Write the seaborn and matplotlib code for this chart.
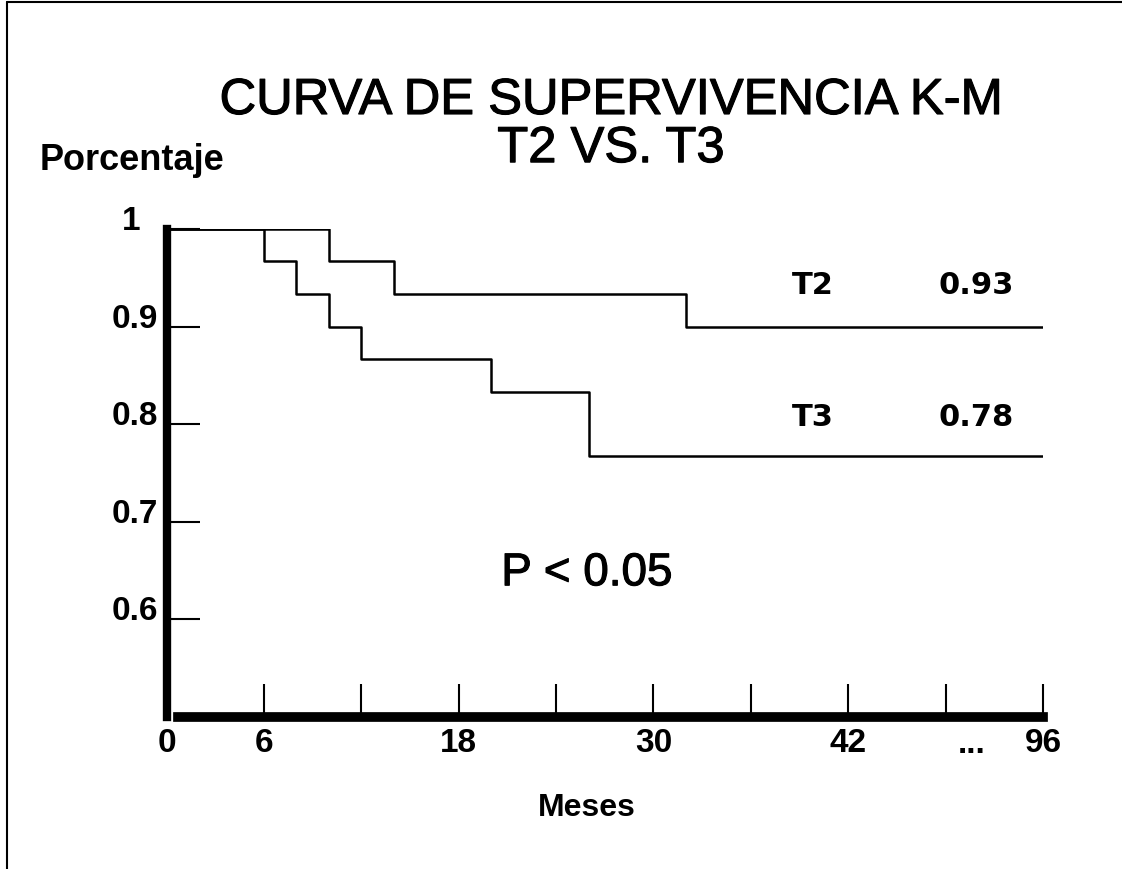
import matplotlib
matplotlib.use('Agg')
import matplotlib.pyplot as plt
import matplotlib.transforms as mtransforms
import matplotlib.patheffects as pe
from matplotlib import font_manager
from matplotlib.lines import Line2D
import seaborn as sns
import pandas as pd

# valores (meses, supervivencia acumulada)
t2_meses = [0, 10, 14, 32, 96]
t2_surv = [1.0, 0.967, 0.933, 0.900, 0.900]
t3_meses = [0, 6, 8, 10, 12, 20, 26, 96]
t3_surv = [1.0, 0.967, 0.933, 0.900, 0.867, 0.833, 0.767, 0.767]

grupos = ['T2', 'T3']
surv_final = ['0.93', '0.78']

x_ticks = [0, 6, 12, 18, 24, 30, 36, 42, 48, 96]
x_labels = ['0', '6', '', '18', '', '30', '', '42', '', '96']
y_ticks = [0.6, 0.7, 0.8, 0.9, 1.0]
y_labels = ['0.6', '0.7', '0.8', '0.9', '1']


def eje_x(t):
    # eje cortado: despues de 48 meses salta directo a 96
    return t if t <= 48 else 54


def hay_fuente(nombre):
    try:
        font_manager.findfont(nombre, fallback_to_default=False)
        return True
    except ValueError:
        return False


df = pd.concat([
    pd.DataFrame({'grupo': 'T2', 'meses': t2_meses, 'surv': t2_surv}),
    pd.DataFrame({'grupo': 'T3', 'meses': t3_meses, 'surv': t3_surv}),
])
df['pos'] = df['meses'].map(eje_x)

sns.set_style('white')
plt.rcParams['font.family'] = ['Liberation Sans', 'DejaVu Sans']
plt.rcParams['text.color'] = 'black'
plt.rcParams['axes.labelcolor'] = 'black'
plt.rcParams['xtick.color'] = 'black'
plt.rcParams['ytick.color'] = 'black'

fig = plt.figure(figsize=(11.22, 8.7), dpi=100)
ax = fig.add_axes([166.5 / 1122, 1 - 718 / 870, (1043 - 166.5) / 1122, (718 - 230) / 870])

sns.lineplot(data=df, x='pos', y='surv', hue='grupo', estimator=None,
             palette={'T2': 'black', 'T3': 'black'}, legend=False,
             drawstyle='steps-post', linewidth=1.8, ax=ax)

ax.set_xlim(0, 54)
ax.set_ylim(0.5, 1.0)
sns.despine(ax=ax)
ax.spines['left'].set_linewidth(6)
ax.spines['bottom'].set_linewidth(7)
ax.spines['left'].set_color('black')
ax.spines['bottom'].set_color('black')
ax.spines['bottom'].set_bounds(0.7, 54)

ax.set_xticks([eje_x(t) for t in x_ticks])
ax.set_xticklabels(x_labels)
ax.set_yticks(y_ticks)
ax.set_yticklabels(y_labels)
ax.tick_params(axis='x', bottom=True, direction='in', length=24, width=1.5, pad=7,
               labelsize=24, colors='black')
ax.tick_params(axis='y', left=True, direction='in', length=24, width=1.5, pad=6,
               labelsize=24, colors='black')
for lab in ax.get_xticklabels() + ax.get_yticklabels():
    lab.set_fontweight('bold')
subir = mtransforms.ScaledTranslation(0, 8.6 / 72, fig.dpi_scale_trans)
for lab in ax.get_yticklabels():
    lab.set_transform(lab.get_transform() + subir)
uno = mtransforms.ScaledTranslation(-13 / 72, 0, fig.dpi_scale_trans)
ax.get_yticklabels()[-1].set_transform(ax.get_yticklabels()[-1].get_transform() + uno)

ax.set_xlabel('')
ax.set_ylabel('')

# puntos suspensivos antes del 96
trans = mtransforms.blended_transform_factory(ax.transData, ax.transAxes)
ax.text(49.6, -0.0717, '...', transform=trans, ha='center', va='baseline',
        fontsize=24, fontweight='bold', clip_on=False)

# etiquetas de los grupos
ax.text(39.8, 0.934, grupos[0], ha='center', va='baseline', fontsize=22,
        fontweight='bold', family='DejaVu Sans')
ax.text(49.9, 0.934, surv_final[0], ha='center', va='baseline', fontsize=22,
        fontweight='bold', family='DejaVu Sans')
ax.text(39.8, 0.799, grupos[1], ha='center', va='baseline', fontsize=22,
        fontweight='bold', family='DejaVu Sans')
ax.text(49.9, 0.799, surv_final[1], ha='center', va='baseline', fontsize=22,
        fontweight='bold', family='DejaVu Sans')

grueso = [pe.withStroke(linewidth=0.8, foreground='black')]
ax.text(25.9, 0.635, 'P < 0.05', ha='center', va='baseline', fontsize=33,
        path_effects=grueso)

# titulo
if hay_fuente('Liberation Sans Narrow'):
    fam_tit, tam_tit = ['Liberation Sans Narrow', 'Liberation Sans'], 44
else:
    fam_tit, tam_tit = ['Liberation Sans'], 36.5
fig.text(0.5446, 0.8678, 'CURVA DE SUPERVIVENCIA K-M', ha='center', va='baseline',
         fontsize=tam_tit, family=fam_tit, path_effects=grueso)
fig.text(0.5446, 0.8125, 'T2 VS. T3', ha='center', va='baseline',
         fontsize=tam_tit, family=fam_tit, path_effects=grueso)

fig.text(0.0357, 0.8046, 'Porcentaje', ha='left', va='baseline',
         fontsize=26, fontweight='bold')
fig.text(0.523, 0.062, 'Meses', ha='center', va='baseline',
         fontsize=23, fontweight='bold')

# marco de la diapositiva (arriba e izquierda)
fig.add_artist(Line2D([0.006, 1.0], [0.997, 0.997], color='black', lw=1.5,
                      transform=fig.transFigure))
fig.add_artist(Line2D([0.006, 0.006], [0.0, 0.997], color='black', lw=1.5,
                      transform=fig.transFigure))

fig.savefig('out.png', dpi=100, facecolor='white')
